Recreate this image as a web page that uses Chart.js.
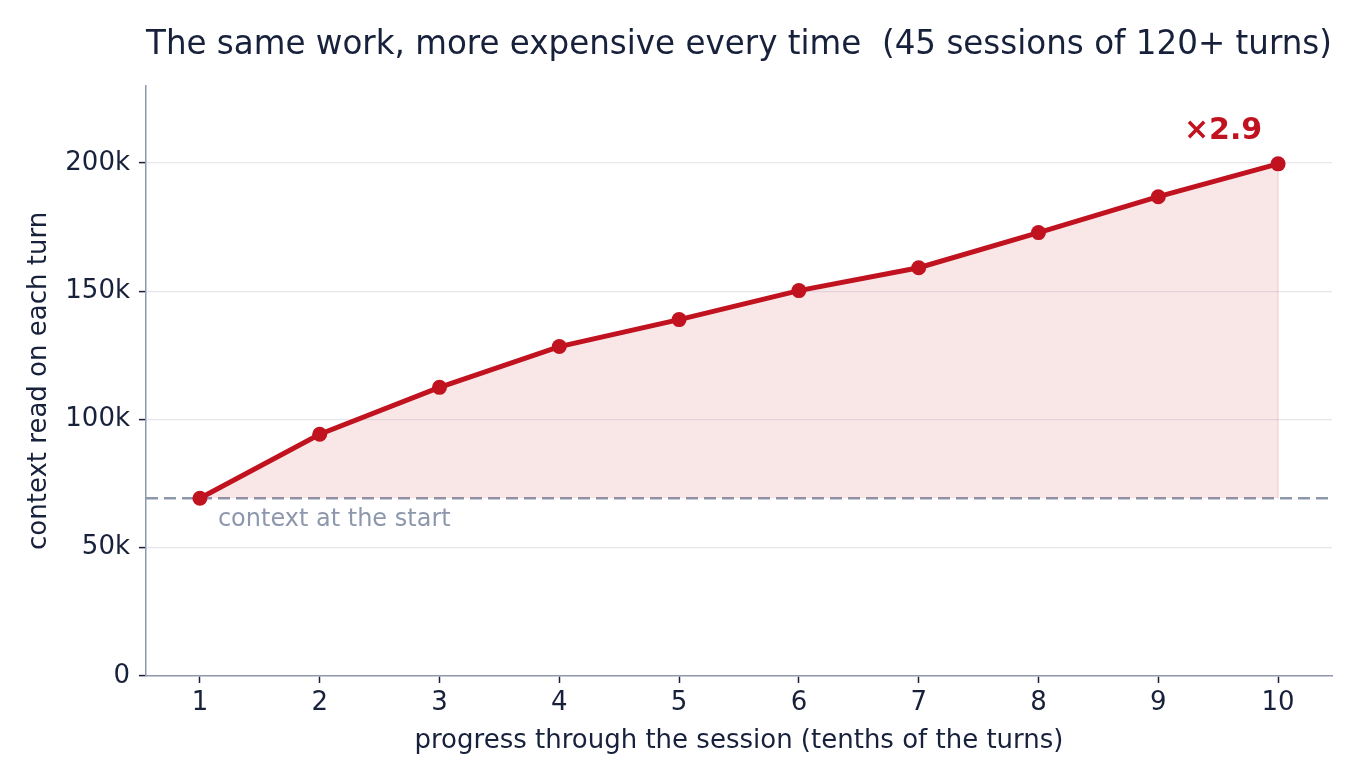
<!DOCTYPE html>
<html lang="en">
<head>
  <meta charset="UTF-8">
  <title>Context growth per session</title>
  <script src="https://cdn.jsdelivr.net/npm/chart.js"></script>
  <style>
    html, body { margin: 0; padding: 0; background: #fff; }
    #wrap { width: 1360px; height: 782px; }
  </style>
</head>
<body>
<div id="wrap"><canvas id="growthChart" width="1360" height="782"></canvas></div>

<script>
  // progress through the session, in tenths of the turns
  const tenths = [1, 2, 3, 4, 5, 6, 7, 8, 9, 10];
  // context read on each turn (tokens)
  const contextRead = [69300, 94200, 112500, 128400, 138900, 150200, 159100, 172800, 186800, 199600];
  const yTicks = [0, 50000, 100000, 150000, 200000];

  const startLevel = contextRead[0];
  const growth = (contextRead[contextRead.length - 1] / startLevel).toFixed(1);

  const ink = '#18213b';
  const red = '#c1121f';
  const slate = '#8e98ad';
  const font = "'DejaVu Sans', sans-serif";

  // labels for the baseline and the growth factor
  const notes = {
    id: 'notes',
    afterDatasetsDraw(chart) {
      const { ctx, scales: { x, y } } = chart;
      const last = tenths.length - 1;
      ctx.save();

      // faint right edge of the shaded area
      ctx.strokeStyle = 'rgba(193,18,31,0.12)';
      ctx.lineWidth = 1.5;
      ctx.beginPath();
      ctx.moveTo(x.getPixelForValue(tenths[last]), y.getPixelForValue(contextRead[last]));
      ctx.lineTo(x.getPixelForValue(tenths[last]), y.getPixelForValue(startLevel));
      ctx.stroke();

      ctx.font = '24px ' + font;
      ctx.fillStyle = slate;
      ctx.textBaseline = 'alphabetic';
      ctx.fillText('context at the start', x.getPixelForValue(tenths[0]) + 18, y.getPixelForValue(startLevel) + 28);

      ctx.font = 'bold 30px ' + font;
      ctx.fillStyle = red;
      ctx.textAlign = 'center';
      ctx.textBaseline = 'middle';
      ctx.fillText('\u00d7' + growth, x.getPixelForValue(tenths[last]) - 55, y.getPixelForValue(contextRead[last]) - 33);
      ctx.restore();
    }
  };

  new Chart(document.getElementById('growthChart'), {
    type: 'line',
    data: {
      datasets: [{
        label: 'context read',
        data: tenths.map((t, i) => ({ x: t, y: contextRead[i] })),
        borderColor: red,
        backgroundColor: 'rgba(193,18,31,0.1)',
        borderWidth: 5,
        pointRadius: 7.5,
        pointBackgroundColor: red,
        pointBorderWidth: 0,
        fill: { value: startLevel },
        order: 1
      }, {
        label: 'start',
        data: [{ x: 0.55, y: startLevel }, { x: 10.45, y: startLevel }],
        borderColor: slate,
        borderWidth: 2.5,
        borderDash: [12, 6],
        pointRadius: 0,
        fill: false,
        order: 2
      }]
    },
    options: {
      responsive: false,
      animation: false,
      layout: { padding: { top: 0, right: 28, bottom: 0, left: 0 } },
      plugins: {
        legend: { display: false },
        tooltip: { enabled: false },
        title: {
          display: true,
          text: 'The same work, more expensive every time  (45 sessions of 120+ turns)',
          align: 'start',
          fullSize: false,
          color: ink,
          font: { family: font, size: 33.2, weight: 'normal' },
          padding: { top: 25, bottom: 21 }
        }
      },
      scales: {
        x: {
          type: 'linear',
          min: 0.55,
          max: 10.45,
          afterBuildTicks: s => { s.ticks = tenths.map(v => ({ value: v })); },
          afterFit: s => { s.height = 106; },
          ticks: { color: ink, font: { family: font, size: 26 }, padding: 5 },
          grid: { drawOnChartArea: false, tickLength: 7, tickColor: ink, tickWidth: 1.5 },
          border: { color: slate, width: 1.5 },
          title: {
            display: true,
            text: 'progress through the session (tenths of the turns)',
            color: ink,
            font: { family: font, size: 26 },
            padding: { bottom: 25 }
          }
        },
        y: {
          min: 0,
          max: 230000,
          afterBuildTicks: s => { s.ticks = yTicks.map(v => ({ value: v })); },
          afterFit: s => { s.width = 146; },
          ticks: {
            color: ink,
            font: { family: font, size: 26 },
            padding: 9,
            callback: v => v === 0 ? '0' : (v / 1000) + 'k'
          },
          grid: { color: '#e6e7ec', lineWidth: 1.2, tickLength: 7, tickColor: ink, tickWidth: 1.5 },
          border: { color: slate, width: 1.5 },
          title: {
            display: true,
            text: 'context read on each turn',
            color: ink,
            font: { family: font, size: 26 },
            padding: { top: 24 }
          }
        }
      }
    },
    plugins: [notes]
  });
</script>
</body>
</html>
